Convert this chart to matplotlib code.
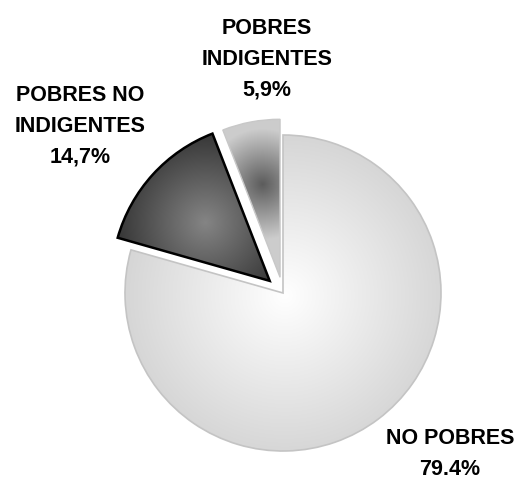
import numpy as np
import matplotlib.pyplot as plt

# Datos del grafico
categorias = ['NO POBRES', 'POBRES NO\nINDIGENTES', 'POBRES\nINDIGENTES']
valores = [79.4, 14.7, 5.9]
porcentajes = ['79.4%', '14,7%', '5,9%']

plt.rcParams['font.family'] = ['Liberation Sans', 'DejaVu Sans']

fig = plt.figure(figsize=(5.18, 4.79), dpi=100)
ax = fig.add_axes([0, 0, 1, 1])

wedges, _ = ax.pie(valores, startangle=90, counterclock=False,
                   explode=[0, 18, 16], radius=158, center=(283, 186),
                   colors=['#d8d8d8', '#555555', '#aaaaaa'])
ax.set_xlim(0, 518)
ax.set_ylim(0, 479)
ax.axis('off')

# degradados (centro -> borde) para imitar el relleno original
degradados = [((1.0, 1.0, 1.0), (0.84, 0.84, 0.84), 0.02, 1.0),
              ((0.52, 0.52, 0.52), (0.22, 0.22, 0.22), 0.55, 0.55),
              ((0.36, 0.36, 0.36), (0.80, 0.80, 0.80), 0.6, 0.35)]
bordes = ['#c4c4c4', '#000000', '#c8c8c8']
anchos = [1.2, 1.8, 1.0]

xx, yy = np.meshgrid(np.arange(518) + 0.5, np.arange(479) + 0.5)
for w, (c0, c1, f, esc), ec, lw in zip(wedges, degradados, bordes, anchos):
    cx, cy = w.center
    mid = np.deg2rad((w.theta1 + w.theta2) / 2)
    gx = cx + f * w.r * np.cos(mid)
    gy = cy + f * w.r * np.sin(mid)
    d = np.clip(np.hypot(xx - gx, yy - gy) / (esc * w.r), 0, 1)
    img = np.array(c0)[None, None, :] + (np.array(c1) - np.array(c0))[None, None, :] * d[..., None]
    im = ax.imshow(img, extent=(0, 518, 0, 479), origin='lower', zorder=1, interpolation='bilinear')
    im.set_clip_path(w)
    w.set_facecolor('none')
    w.set_edgecolor(ec)
    w.set_linewidth(lw)
    w.set_zorder(3)

estilo = dict(fontsize=15.5, fontweight='bold', ha='center', va='top', linespacing=1.6, color='black')
ax.text(450, 479 - 428, categorias[0] + '\n' + porcentajes[0], **estilo)
ax.text(80, 479 - 85, categorias[1] + '\n' + porcentajes[1], **estilo)
ax.text(267, 479 - 18, categorias[2] + '\n' + porcentajes[2], **estilo)

fig.savefig('out.png', dpi=100)
